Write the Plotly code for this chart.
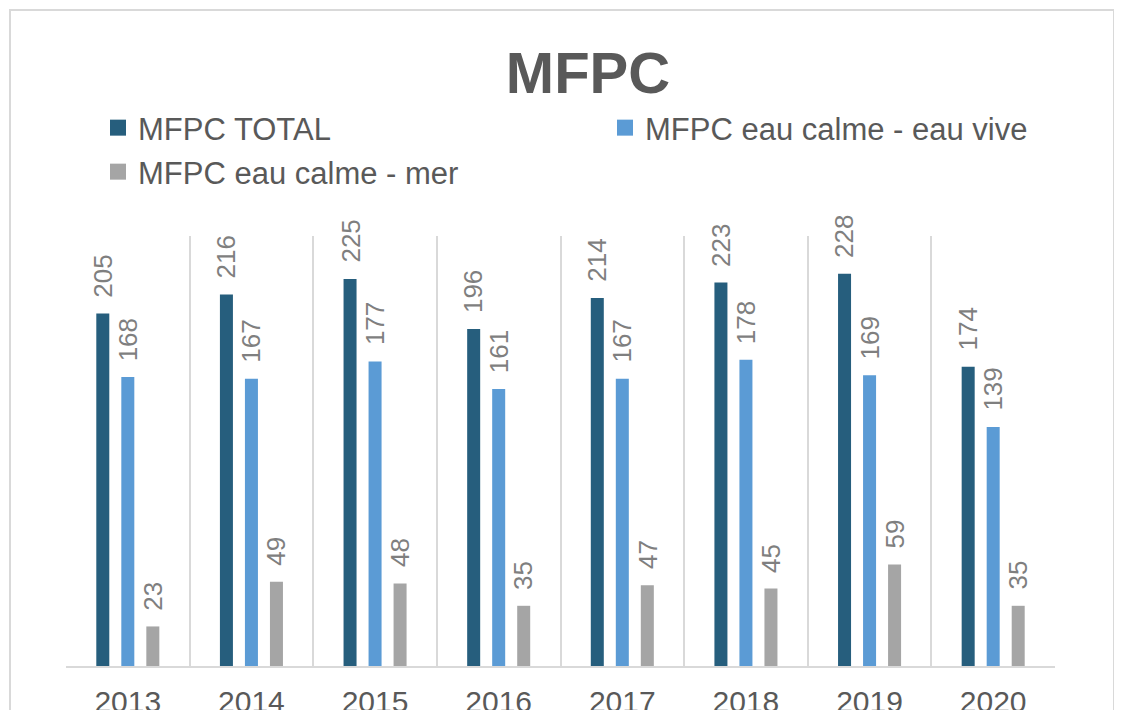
import plotly.graph_objects as go

years = ["2013", "2014", "2015", "2016", "2017", "2018", "2019", "2020"]
total = [205, 216, 225, 196, 214, 223, 228, 174]
eau_vive = [168, 167, 177, 161, 167, 178, 169, 139]
mer = [23, 49, 48, 35, 47, 45, 59, 35]

series = [
    ("MFPC TOTAL", total, "#265E7D", "legend", -25),
    ("MFPC eau calme - eau vive", eau_vive, "#5B9BD5", "legend2", 0),
    ("MFPC eau calme - mer", mer, "#A5A5A5", "legend3", 25),
]

# the page body adds an 8px offset; figure covers screen pixels 8..1122 x 8..710
OFF = 8
W, H = 1122 - OFF, 710 - OFF
# plot area in screen pixels
L, R, T, B = 66, 1055, 236, 666


def px(xs):
    return (xs - L) / (R - L)


def py(ys):
    return (B - ys) / (B - T)


def cx(xs):
    return (xs - OFF) / W


def cy(ys):
    return 1 - (ys - OFF) / H


FONT = "Liberation Sans, Arial, sans-serif"

fig = go.Figure()
annotations = []
for name, vals, color, leg, shift in series:
    fig.add_trace(go.Bar(
        x=years, y=vals, name=name, marker_color=color,
        marker_line_width=0, showlegend=False,
    ))
    fig.add_trace(go.Scatter(
        x=[years[0]], y=[None], mode="markers", name=name,
        marker=dict(symbol="square", size=16, color=color),
        legend=leg, showlegend=True, hoverinfo="skip",
    ))
    for i, v in enumerate(vals):
        annotations.append(dict(
            x=i, y=v, xref="x", yref="y", text=str(v), showarrow=False,
            textangle=-90, xanchor="center", yanchor="bottom",
            xshift=shift, yshift=14,
            font=dict(family=FONT, size=26, color="#7F7F7F"),
        ))

annotations.append(dict(
    x=px(7), y=py(10), xref="paper", yref="paper", text="Le MFPC :",
    showarrow=False, xanchor="left", yanchor="bottom",
    font=dict(family=FONT, size=16, color="#000000"),
))

legend_common = dict(
    orientation="v", xanchor="left", yanchor="middle",
    xref="container", yref="container",
    bgcolor="rgba(0,0,0,0)",
    font=dict(family=FONT, size=31, color="#595959"),
)

fig.update_layout(
    width=W, height=H,
    margin=dict(l=L - OFF, r=(W + OFF) - R, t=T - OFF, b=(H + OFF) - B,
                pad=0, autoexpand=False),
    paper_bgcolor="white", plot_bgcolor="white",
    barmode="group", bargap=0.393, bargroupgap=0.48,
    title=dict(
        text="<b>MFPC</b>", x=cx(588), y=cy(73),
        xanchor="center", yanchor="middle", xref="container", yref="container",
        font=dict(family=FONT, size=58, color="#595959"),
    ),
    legend=dict(x=cx(98), y=cy(128), **legend_common),
    legend2=dict(x=cx(605), y=cy(128), **legend_common),
    legend3=dict(x=cx(98), y=cy(172), **legend_common),
    xaxis=dict(
        type="category", categoryarray=years, categoryorder="array",
        tickson="boundaries", showgrid=True,
        gridcolor="#D9D9D9", gridwidth=1.5,
        showline=True, linecolor="#D9D9D9", linewidth=2,
        ticks="", ticklabelstandoff=8, tickangle=0,
        tickfont=dict(family=FONT, size=30, color="#595959"),
        range=[-0.5, 7.5], fixedrange=True,
    ),
    yaxis=dict(range=[0, 250], visible=False, showgrid=False, zeroline=False),
    annotations=annotations,
    shapes=[dict(
        type="rect", xref="paper", yref="paper",
        x0=px(10), x1=px(1114), y0=py(10), y1=py(730),
        line=dict(color="#D9D9D9", width=2), fillcolor="rgba(0,0,0,0)",
        layer="below",
    )],
)

fig.write_html("out.html")
